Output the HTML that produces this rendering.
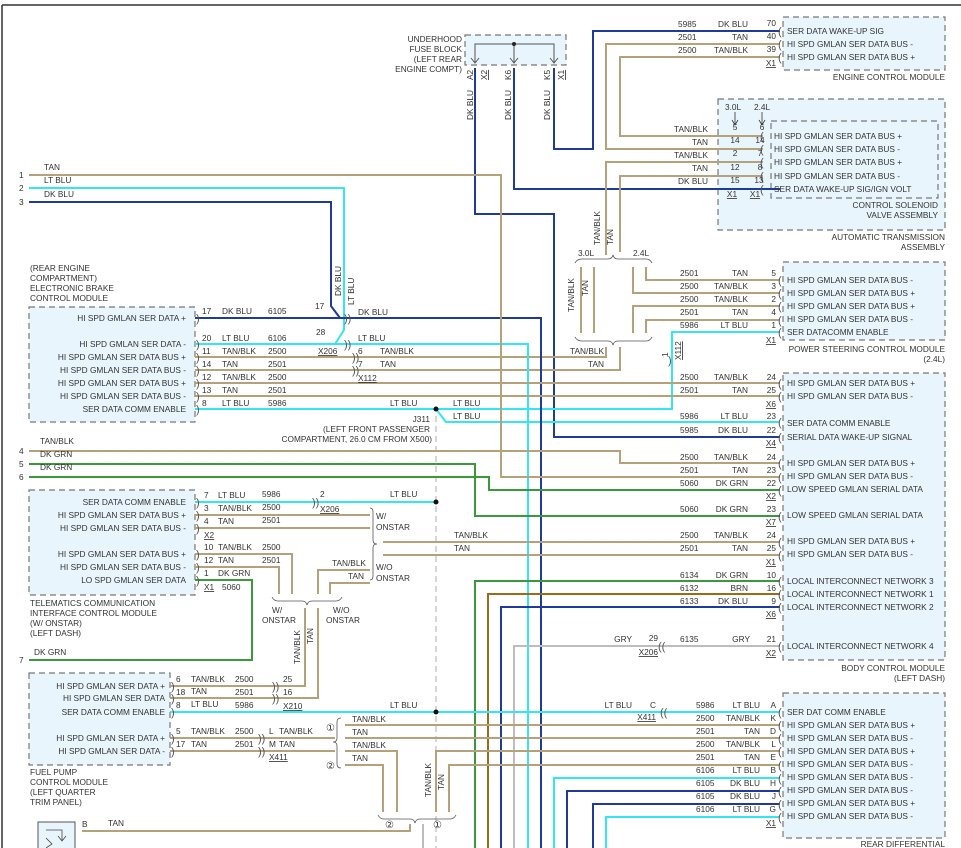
<!DOCTYPE html>
<html><head><meta charset="utf-8">
<style>
html,body{margin:0;padding:0;background:#fff;}
svg{display:block;font-family:"Liberation Sans",sans-serif;font-size:8.3px;fill:#333;}
.w{fill:none;stroke-width:2;stroke-linejoin:miter;}
.t{stroke:#b6a27a;} .lb{stroke:#33e6f2;} .db{stroke:#1f3b98;} .g{stroke:#3a9a3a;} .br{stroke:#9b6b1a;} .gy{stroke:#bdbdbd;}
.box{fill:#e8f5fc;stroke:#777;stroke-width:1.2;stroke-dasharray:6,4;}
.r{text-anchor:end;} .m{text-anchor:middle;}
.u{text-decoration:underline;}
.br2{fill:none;stroke:#555;stroke-width:0.8;}
</style></head><body>
<svg width="961" height="848" viewBox="0 0 961 848" xmlns="http://www.w3.org/2000/svg">
<line x1="2" y1="5" x2="961" y2="5" stroke="#333" stroke-width="1.5"/>
<line x1="2" y1="5" x2="2" y2="848" stroke="#333" stroke-width="1.5"/>

<rect class="box" x="465" y="35" width="101" height="30"/>
<rect class="box" x="783" y="17" width="162" height="53"/>
<rect class="box" x="718" y="99" width="227" height="131"/>
<rect x="771" y="121" width="167" height="77" fill="#e8f5fc" stroke="#777" stroke-width="1.2" stroke-dasharray="6,4"/>
<rect class="box" x="783" y="262" width="162" height="78"/>
<rect class="box" x="783" y="373" width="162" height="287"/>
<rect class="box" x="783" y="693" width="162" height="145"/>
<rect class="box" x="29" y="307" width="166" height="115"/>
<rect class="box" x="29" y="490" width="166" height="105"/>
<rect class="box" x="29" y="673" width="141" height="92"/>
<rect x="38" y="822" width="37" height="30" fill="#e8f5fc" stroke="#555" stroke-width="1"/>

<polyline points="475,62 475,44 554,44 554,62" fill="none" stroke="#555" stroke-width="1"/>
<line x1="514" y1="44" x2="514" y2="62" stroke="#555" stroke-width="1"/>
<circle cx="514" cy="44" r="2" fill="#222"/>
<path d="M471,58 L475,63 L479,58 M510,58 L514,63 L518,58 M550,58 L554,63 L558,58" fill="none" stroke="#555" stroke-width="1"/>

<line x1="436" y1="416" x2="436" y2="848" stroke="#bbb" stroke-width="1.2" stroke-dasharray="6,4"/>

<polyline class="w db" points="475,68 475,214 554,214 554,437 780,437"/>
<polyline class="w db" points="514,68 514,189 780,189"/>
<polyline class="w db" points="554,68 554,149 593,149 593,31 780,31"/>
<polyline class="w t" points="763,149 606,149 606,44 780,44"/>
<polyline class="w t" points="763,136 620,136 620,57 780,57"/>
<polyline class="w t" points="606,255 606,162 763,162"/>
<polyline class="w t" points="620,252 620,176 763,176"/>

<line class="w t" x1="581" y1="267" x2="581" y2="333"/>
<line class="w t" x1="594" y1="267" x2="594" y2="333"/>
<polyline class="w t" points="633,267 633,293 780,293"/>
<polyline class="w t" points="646,267 646,280 780,280"/>
<polyline class="w t" points="633,333 633,306 780,306"/>
<polyline class="w t" points="646,333 646,320 780,320"/>
<polyline class="w t" points="606,347 606,357 195,357"/>
<polyline class="w t" points="620,347 620,370 195,370"/>
<path class="br2" d="M575,263 Q577,259 582,259 L608,259 Q612,259 613,255 Q614,259 618,259 L646,259 Q650,259 652,263"/>
<path class="br2" d="M575,337 Q577,341 582,341 L608,341 Q612,341 613,345 Q614,341 618,341 L646,341 Q650,341 652,337"/>

<polyline class="w lb" points="195,409 672,409 672,332 780,332"/>
<polyline class="w lb" points="436,409 446,422 780,422"/>

<polyline class="w db" points="29,202 331,202 331,306 340,318"/>
<polyline class="w lb" points="29,188 344,188 344,330 335,344"/>
<polyline class="w db" points="195,318 541,318 541,848"/>
<polyline class="w lb" points="195,344 528,344 528,848"/>
<line class="w t" x1="195" y1="383" x2="780" y2="383"/>
<line class="w t" x1="195" y1="396" x2="780" y2="396"/>
<polyline class="w t" points="29,175 501,175 501,477 780,477"/>
<polyline class="w t" points="29,451 620,451 620,463 780,463"/>
<polyline class="w g" points="29,464 475,464 475,516 780,516"/>
<polyline class="w g" points="29,477 489,477 489,490 780,490"/>

<polyline class="w g" points="475,848 475,581 780,581"/>
<polyline class="w br" points="488,848 488,594 780,594"/>
<polyline class="w db" points="501,848 501,607 780,607"/>
<polyline class="w gy" points="514,848 514,646 780,646"/>

<line class="w lb" x1="195" y1="502" x2="436" y2="502"/>
<line class="w t" x1="195" y1="515" x2="370" y2="515"/>
<line class="w t" x1="195" y1="528" x2="370" y2="528"/>
<path class="br2" d="M370,508 Q373,508 373,512 L373,540 Q373,544 377,544 Q373,544 373,548 L373,576 Q373,580 370,580"/>
<line class="w t" x1="383" y1="542" x2="780" y2="542"/>
<line class="w t" x1="383" y1="555" x2="780" y2="555"/>
<polyline class="w t" points="195,554 292,554 292,594"/>
<polyline class="w t" points="195,567 279,567 279,594"/>
<polyline class="w g" points="195,580 252,580 252,660 29,660"/>
<polyline class="w t" points="370,570 318,570 318,594"/>
<polyline class="w t" points="370,583 330,583 330,594"/>
<path class="br2" d="M272,597 Q274,601 278,601 L302,601 Q306,601 307,605 Q308,601 312,601 L336,601 Q340,601 342,597"/>
<polyline class="w t" points="305,608 305,686 170,686"/>
<polyline class="w t" points="318,608 318,698 170,698"/>

<line class="w lb" x1="170" y1="712" x2="780" y2="712"/>
<line class="w t" x1="170" y1="738" x2="335" y2="738"/>
<line class="w t" x1="170" y1="751" x2="335" y2="751"/>
<path class="br2" d="M341,718 Q337,718 337,722 L337,738 Q337,742 333,742 Q337,742 337,746 L337,764 Q337,768 341,768"/>
<line class="w t" x1="345" y1="725" x2="780" y2="725"/>
<line class="w t" x1="345" y1="738" x2="780" y2="738"/>
<polyline class="w t" points="345,751 397,751 397,812"/>
<polyline class="w t" points="345,765 383,765 383,812"/>
<polyline class="w t" points="436,812 436,751 780,751"/>
<polyline class="w t" points="449,812 449,765 780,765"/>
<path class="br2" d="M378,815 Q380,819 384,819 L410,819 Q414,819 415,823 Q416,819 420,819 L450,819 Q454,819 456,815"/>
<polyline class="w t" points="82,831 410,831 410,824"/>
<line class="w gy" x1="423" y1="824" x2="423" y2="848"/>

<polyline class="w lb" points="554,848 554,778 780,778"/>
<polyline class="w db" points="567,848 567,791 780,791"/>
<polyline class="w db" points="593,848 593,804 780,804"/>
<polyline class="w lb" points="606,848 606,817 780,817"/>

<circle cx="436" cy="409" r="2.5" fill="#111"/>
<circle cx="436" cy="502" r="2.5" fill="#111"/>
<circle cx="436" cy="712" r="2.5" fill="#111"/>

<g font-size="11" fill="#555">
<text x="778" y="35">(</text><text x="778" y="48">(</text><text x="778" y="61">(</text>
<text x="760" y="140">(</text><text x="760" y="153">(</text><text x="760" y="166">(</text><text x="760" y="180">(</text><text x="760" y="193">(</text>
<text x="778" y="284">(</text><text x="778" y="297">(</text><text x="778" y="310">(</text><text x="778" y="324">(</text><text x="778" y="336">(</text>
<text x="778" y="387">(</text><text x="778" y="400">(</text><text x="778" y="426">(</text><text x="778" y="441">(</text><text x="778" y="467">(</text><text x="778" y="481">(</text><text x="778" y="494">(</text><text x="778" y="520">(</text><text x="778" y="546">(</text><text x="778" y="559">(</text><text x="778" y="585">(</text><text x="778" y="598">(</text><text x="778" y="611">(</text><text x="778" y="650">(</text>
<text x="778" y="716">(</text><text x="778" y="729">(</text><text x="778" y="742">(</text><text x="778" y="755">(</text><text x="778" y="769">(</text><text x="778" y="782">(</text><text x="778" y="795">(</text><text x="778" y="808">(</text><text x="778" y="821">(</text>
<text x="196" y="322">)</text><text x="196" y="348">)</text><text x="196" y="361">)</text><text x="196" y="374">)</text><text x="196" y="387">)</text><text x="196" y="400">)</text><text x="196" y="413">)</text>
<text x="196" y="506">)</text><text x="196" y="519">)</text><text x="196" y="532">)</text><text x="196" y="558">)</text><text x="196" y="571">)</text><text x="196" y="584">)</text>
<text x="171" y="690">)</text><text x="171" y="702">)</text><text x="171" y="716">)</text><text x="171" y="742">)</text><text x="171" y="755">)</text>
<text x="344" y="322">))</text><text x="344" y="348">))</text><text x="352" y="361">))</text><text x="352" y="374">))</text>
<text x="312" y="506">))</text><text x="272" y="690">))</text><text x="272" y="702">))</text><text x="258" y="742">))</text><text x="258" y="755">))</text>
<text x="660" y="716">((</text><text x="658" y="650">((</text><text x="668" y="364">)</text>
</g>

<text class="r" x="462" y="42">UNDERHOOD</text>
<text class="r" x="462" y="52">FUSE BLOCK</text>
<text class="r" x="462" y="62">(LEFT REAR</text>
<text class="r" x="462" y="72">ENGINE COMPT)</text>
<g transform="rotate(-90)">
<text x="-80" y="473">A2</text><text x="-80" y="487" class="u">X2</text>
<text x="-80" y="511">K6</text><text x="-80" y="550">K5</text><text x="-80" y="564" class="u">X1</text>
<text x="-120" y="473">DK BLU</text><text x="-120" y="511">DK BLU</text><text x="-120" y="550">DK BLU</text>
<text x="-296" y="341">DK BLU</text>
<text x="-245" y="600">TAN/BLK</text><text x="-245" y="613">TAN</text>
<text x="-312" y="574">TAN/BLK</text><text x="-296" y="588">TAN</text>
<text x="-360" y="681" class="u">X112</text><text x="-357" y="668">1</text>
<text x="-664" y="300">TAN/BLK</text><text x="-644" y="313">TAN</text>
<text x="-797" y="431">TAN/BLK</text><text x="-790" y="444">TAN</text>
<text x="-305" y="354">LT BLU</text>
</g>

<text x="678" y="27">5985</text><text class="r" x="748" y="27">DK BLU</text><text class="r" x="776" y="26">70</text>
<text x="678" y="40">2501</text><text class="r" x="748" y="40">TAN</text><text class="r" x="776" y="39">40</text>
<text x="678" y="53">2500</text><text class="r" x="748" y="53">TAN/BLK</text><text class="r" x="776" y="52">39</text>
<text class="r u" x="776" y="66">X1</text>
<text x="787" y="34">SER DATA WAKE-UP SIG</text>
<text x="787" y="47">HI SPD GMLAN SER DATA BUS -</text>
<text x="787" y="60">HI SPD GMLAN SER DATA BUS +</text>
<text class="r" x="945" y="80">ENGINE CONTROL MODULE</text>

<text x="725" y="110">3.0L</text><text x="754" y="110">2.4L</text>
<path d="M735,112 L735,124 M732,120 L735,125 L738,120 M762,112 L762,124 M759,120 L762,125 L765,120" stroke="#333" fill="none" stroke-width="0.8"/>
<text class="r" x="708" y="132">TAN/BLK</text><text class="m" x="735" y="130">5</text><text class="m" x="762" y="130">6</text>
<text class="r" x="708" y="145">TAN</text><text class="m" x="735" y="143">14</text><text class="m" x="760" y="143">14</text>
<text class="r" x="708" y="158">TAN/BLK</text><text class="m" x="735" y="156">2</text><text class="m" x="760" y="156">7</text>
<text class="r" x="708" y="171">TAN</text><text class="m" x="735" y="170">12</text><text class="m" x="760" y="170">8</text>
<text class="r" x="708" y="184">DK BLU</text><text class="m" x="735" y="183">15</text><text class="m" x="759" y="183">13</text>
<text class="m u" x="732" y="197">X1</text><text class="m u" x="755" y="197">X1</text>
<text x="774" y="139">HI SPD GMLAN SER DATA BUS +</text>
<text x="774" y="152">HI SPD GMLAN SER DATA BUS -</text>
<text x="774" y="165">HI SPD GMLAN SER DATA BUS +</text>
<text x="774" y="179">HI SPD GMLAN SER DATA BUS -</text>
<text x="774" y="192">SER DATA WAKE-UP SIG/IGN VOLT</text>
<text class="r" x="938" y="208">CONTROL SOLENOID</text>
<text class="r" x="938" y="218">VALVE ASSEMBLY</text>
<text class="r" x="945" y="240">AUTOMATIC TRANSMISSION</text>
<text class="r" x="945" y="250">ASSEMBLY</text>

<text x="578" y="256">3.0L</text><text x="633" y="256">2.4L</text>
<text x="680" y="276">2501</text><text class="r" x="748" y="276">TAN</text><text class="r" x="776" y="276">5</text>
<text x="680" y="289">2500</text><text class="r" x="748" y="289">TAN/BLK</text><text class="r" x="776" y="289">3</text>
<text x="680" y="302">2500</text><text class="r" x="748" y="302">TAN/BLK</text><text class="r" x="776" y="302">2</text>
<text x="680" y="315">2501</text><text class="r" x="748" y="315">TAN</text><text class="r" x="776" y="315">4</text>
<text x="680" y="328">5986</text><text class="r" x="748" y="328">LT BLU</text><text class="r" x="776" y="328">1</text>
<text class="r u" x="776" y="343">X1</text>
<text x="787" y="283">HI SPD GMLAN SER DATA BUS -</text>
<text x="787" y="296">HI SPD GMLAN SER DATA BUS +</text>
<text x="787" y="309">HI SPD GMLAN SER DATA BUS +</text>
<text x="787" y="322">HI SPD GMLAN SER DATA BUS -</text>
<text x="787" y="335">SER DATACOMM ENABLE</text>
<text class="r" x="945" y="352">POWER STEERING CONTROL MODULE</text>
<text class="r" x="945" y="362">(2.4L)</text>
<text class="r" x="604" y="354">TAN/BLK</text><text class="r" x="604" y="367">TAN</text>

<text x="680" y="380">2500</text><text class="r" x="748" y="380">TAN/BLK</text><text class="r" x="776" y="380">24</text>
<text x="680" y="393">2501</text><text class="r" x="748" y="393">TAN</text><text class="r" x="776" y="393">25</text>
<text class="r u" x="776" y="407">X6</text>
<text x="680" y="419">5986</text><text class="r" x="748" y="419">LT BLU</text><text class="r" x="776" y="419">23</text>
<text x="680" y="433">5985</text><text class="r" x="748" y="433">DK BLU</text><text class="r" x="776" y="433">22</text>
<text class="r u" x="776" y="446">X4</text>
<text x="680" y="460">2500</text><text class="r" x="748" y="460">TAN/BLK</text><text class="r" x="776" y="460">24</text>
<text x="680" y="473">2501</text><text class="r" x="748" y="473">TAN</text><text class="r" x="776" y="473">23</text>
<text x="680" y="486">5060</text><text class="r" x="748" y="486">DK GRN</text><text class="r" x="776" y="486">22</text>
<text class="r u" x="776" y="499">X2</text>
<text x="680" y="512">5060</text><text class="r" x="748" y="512">DK GRN</text><text class="r" x="776" y="512">23</text>
<text class="r u" x="776" y="525">X7</text>
<text x="680" y="538">2500</text><text class="r" x="748" y="538">TAN/BLK</text><text class="r" x="776" y="538">24</text>
<text x="680" y="551">2501</text><text class="r" x="748" y="551">TAN</text><text class="r" x="776" y="551">25</text>
<text class="r u" x="776" y="565">X1</text>
<text x="680" y="578">6134</text><text class="r" x="748" y="578">DK GRN</text><text class="r" x="776" y="578">10</text>
<text x="680" y="591">6132</text><text class="r" x="748" y="591">BRN</text><text class="r" x="776" y="591">16</text>
<text x="680" y="604">6133</text><text class="r" x="748" y="604">DK BLU</text><text class="r" x="776" y="604">9</text>
<text class="r u" x="776" y="617">X6</text>
<text class="r" x="632" y="642">GRY</text><text class="r" x="658" y="641">29</text><text class="r u" x="658" y="655">X206</text>
<text x="680" y="642">6135</text><text class="r" x="750" y="642">GRY</text><text class="r" x="776" y="642">21</text>
<text class="r u" x="776" y="656">X2</text>
<text x="787" y="386">HI SPD GMLAN SER DATA BUS +</text>
<text x="787" y="399">HI SPD GMLAN SER DATA BUS -</text>
<text x="787" y="426">SER DATA COMM ENABLE</text>
<text x="787" y="440">SERIAL DATA WAKE-UP SIGNAL</text>
<text x="787" y="466">HI SPD GMLAN SER DATA BUS +</text>
<text x="787" y="479">HI SPD GMLAN SER DATA BUS -</text>
<text x="787" y="492">LOW SPEED GMLAN SERIAL DATA</text>
<text x="787" y="518">LOW SPEED GMLAN SERIAL DATA</text>
<text x="787" y="544">HI SPD GMLAN SER DATA BUS +</text>
<text x="787" y="557">HI SPD GMLAN SER DATA BUS -</text>
<text x="787" y="584">LOCAL INTERCONNECT NETWORK 3</text>
<text x="787" y="597">LOCAL INTERCONNECT NETWORK 1</text>
<text x="787" y="610">LOCAL INTERCONNECT NETWORK 2</text>
<text x="787" y="649">LOCAL INTERCONNECT NETWORK 4</text>
<text class="r" x="945" y="671">BODY CONTROL MODULE</text>
<text class="r" x="945" y="681">(LEFT DASH)</text>

<text class="r" x="632" y="708">LT BLU</text><text class="r" x="656" y="708">C</text><text class="r u" x="656" y="720">X411</text>
<text x="696" y="708">5986</text><text class="r" x="760" y="708">LT BLU</text><text class="r" x="776" y="708">A</text>
<text x="696" y="721">2500</text><text class="r" x="760" y="721">TAN/BLK</text><text class="r" x="776" y="721">K</text>
<text x="696" y="734">2501</text><text class="r" x="760" y="734">TAN</text><text class="r" x="776" y="734">D</text>
<text x="696" y="747">2500</text><text class="r" x="760" y="747">TAN/BLK</text><text class="r" x="776" y="747">L</text>
<text x="696" y="760">2501</text><text class="r" x="760" y="760">TAN</text><text class="r" x="776" y="760">E</text>
<text x="696" y="773">6106</text><text class="r" x="760" y="773">LT BLU</text><text class="r" x="776" y="773">B</text>
<text x="696" y="786">6105</text><text class="r" x="760" y="786">DK BLU</text><text class="r" x="776" y="786">H</text>
<text x="696" y="799">6105</text><text class="r" x="760" y="799">DK BLU</text><text class="r" x="776" y="799">J</text>
<text x="696" y="812">6106</text><text class="r" x="760" y="812">LT BLU</text><text class="r" x="776" y="812">G</text>
<text class="r u" x="776" y="826">X1</text>
<text x="787" y="715">SER DAT COMM ENABLE</text>
<text x="787" y="728">HI SPD GMLAN SER DATA BUS +</text>
<text x="787" y="741">HI SPD GMLAN SER DATA BUS -</text>
<text x="787" y="754">HI SPD GMLAN SER DATA BUS +</text>
<text x="787" y="767">HI SPD GMLAN SER DATA BUS -</text>
<text x="787" y="780">HI SPD GMLAN SER DATA BUS -</text>
<text x="787" y="793">HI SPD GMLAN SER DATA BUS -</text>
<text x="787" y="806">HI SPD GMLAN SER DATA BUS +</text>
<text x="787" y="819">HI SPD GMLAN SER DATA BUS -</text>
<text class="r" x="945" y="847">REAR DIFFERENTIAL</text>

<text x="19" y="178">1</text><text x="44" y="170">TAN</text>
<text x="19" y="191">2</text><text x="44" y="183">LT BLU</text>
<text x="19" y="205">3</text><text x="44" y="197">DK BLU</text>
<text x="19" y="454">4</text><text x="40" y="444">TAN/BLK</text>
<text x="19" y="467">5</text><text x="40" y="457">DK GRN</text>
<text x="19" y="480">6</text><text x="40" y="470">DK GRN</text>
<text x="19" y="663">7</text><text x="34" y="655">DK GRN</text>

<text x="30" y="271">(REAR ENGINE</text>
<text x="30" y="281">COMPARTMENT)</text>
<text x="30" y="291">ELECTRONIC BRAKE</text>
<text x="30" y="301">CONTROL MODULE</text>
<text class="r" x="186" y="321">HI SPD GMLAN SER DATA +</text>
<text class="r" x="186" y="347">HI SPD GMLAN SER DATA -</text>
<text class="r" x="186" y="360">HI SPD GMLAN SER DATA BUS +</text>
<text class="r" x="186" y="373">HI SPD GMLAN SER DATA BUS -</text>
<text class="r" x="186" y="386">HI SPD GMLAN SER DATA BUS +</text>
<text class="r" x="186" y="399">HI SPD GMLAN SER DATA BUS -</text>
<text class="r" x="186" y="412">SER DATA COMM ENABLE</text>
<text x="202" y="314">17</text><text x="222" y="314">DK BLU</text><text x="268" y="314">6105</text>
<text x="202" y="341">20</text><text x="222" y="341">LT BLU</text><text x="268" y="341">6106</text>
<text x="202" y="354">11</text><text x="222" y="354">TAN/BLK</text><text x="268" y="354">2500</text>
<text x="202" y="367">14</text><text x="222" y="367">TAN</text><text x="268" y="367">2501</text>
<text x="202" y="380">12</text><text x="222" y="380">TAN/BLK</text><text x="268" y="380">2500</text>
<text x="202" y="393">13</text><text x="222" y="393">TAN</text><text x="268" y="393">2501</text>
<text x="202" y="406">8</text><text x="222" y="406">LT BLU</text><text x="268" y="406">5986</text>
<text x="315" y="309">17</text><text x="316" y="335">28</text><text class="u" x="318" y="354">X206</text>
<text x="358" y="315">DK BLU</text><text x="358" y="341">LT BLU</text>
<text x="358" y="354">6</text><text x="380" y="354">TAN/BLK</text>
<text x="358" y="367">7</text><text x="380" y="367">TAN</text>
<text class="u" x="358" y="381">X112</text>
<text x="390" y="406">LT BLU</text>
<text x="453" y="406">LT BLU</text><text x="453" y="419">LT BLU</text>
<text class="r" x="430" y="422">J311</text>
<text class="r" x="430" y="432">(LEFT FRONT PASSENGER</text>
<text class="r" x="432" y="442">COMPARTMENT, 26.0 CM FROM X500)</text>

<text class="r" x="186" y="505">SER DATA COMM ENABLE</text>
<text class="r" x="186" y="518">HI SPD GMLAN SER DATA BUS +</text>
<text class="r" x="186" y="531">HI SPD GMLAN SER DATA BUS -</text>
<text class="r" x="186" y="557">HI SPD GMLAN SER DATA BUS +</text>
<text class="r" x="186" y="570">HI SPD GMLAN SER DATA BUS -</text>
<text class="r" x="186" y="583">LO SPD GMLAN SER DATA</text>
<text x="204" y="498">7</text><text x="218" y="498">LT BLU</text><text x="262" y="497">5986</text>
<text x="204" y="511">3</text><text x="218" y="511">TAN/BLK</text><text x="262" y="510">2500</text>
<text x="204" y="524">4</text><text x="218" y="524">TAN</text><text x="262" y="523">2501</text>
<text class="u" x="204" y="538">X2</text>
<text x="204" y="550">10</text><text x="218" y="550">TAN/BLK</text><text x="262" y="550">2500</text>
<text x="204" y="563">12</text><text x="218" y="563">TAN</text><text x="262" y="563">2501</text>
<text x="204" y="576">1</text><text x="218" y="576">DK GRN</text>
<text class="u" x="204" y="590">X1</text><text x="222" y="590">5060</text>
<text x="320" y="497">2</text><text class="u" x="320" y="512">X206</text><text x="390" y="497">LT BLU</text>
<text x="376" y="519">W/</text><text x="376" y="530">ONSTAR</text>
<text x="376" y="570">W/O</text><text x="376" y="581">ONSTAR</text>
<text x="454" y="538">TAN/BLK</text><text x="454" y="551">TAN</text>
<text x="332" y="566">TAN/BLK</text><text x="348" y="579">TAN</text>
<text x="272" y="613">W/</text><text x="262" y="623">ONSTAR</text>
<text x="333" y="613">W/O</text><text x="326" y="623">ONSTAR</text>
<text x="30" y="606">TELEMATICS COMMUNICATION</text>
<text x="30" y="616">INTERFACE CONTROL MODULE</text>
<text x="30" y="626">(W/ ONSTAR)</text>
<text x="30" y="636">(LEFT DASH)</text>

<text class="r" x="165" y="689">HI SPD GMLAN SER DATA +</text>
<text class="r" x="165" y="701">HI SPD GMLAN SER DATA</text>
<text class="r" x="165" y="715">SER DATA COMM ENABLE</text>
<text class="r" x="165" y="741">HI SPD GMLAN SER DATA +</text>
<text class="r" x="165" y="754">HI SPD GMLAN SER DATA -</text>
<text x="176" y="682">6</text><text x="191" y="682">TAN/BLK</text><text x="235" y="682">2500</text><text x="283" y="682">25</text>
<text x="176" y="695">18</text><text x="191" y="694">TAN</text><text x="235" y="695">2501</text><text x="283" y="695">16</text>
<text x="176" y="708">8</text><text x="191" y="707">LT BLU</text><text x="235" y="708">5986</text><text class="u" x="283" y="709">X210</text>
<text x="390" y="708">LT BLU</text>
<text x="176" y="734">5</text><text x="191" y="734">TAN/BLK</text><text x="235" y="734">2500</text><text x="269" y="734">L</text><text x="279" y="734">TAN/BLK</text>
<text x="176" y="747">17</text><text x="191" y="747">TAN</text><text x="235" y="747">2501</text><text x="269" y="747">M</text><text x="279" y="747">TAN</text>
<text class="u" x="269" y="760">X411</text>
<text x="326" y="731" font-size="10">①</text><text x="326" y="769" font-size="10">②</text>
<text x="352" y="722">TAN/BLK</text><text x="352" y="735">TAN</text>
<text x="352" y="748">TAN/BLK</text><text x="352" y="761">TAN</text>
<text x="385" y="828" font-size="10">②</text><text x="433" y="828" font-size="10">①</text>
<text x="30" y="775">FUEL PUMP</text>
<text x="30" y="785">CONTROL MODULE</text>
<text x="30" y="795">(LEFT QUARTER</text>
<text x="30" y="805">TRIM PANEL)</text>
<text x="82" y="827">B</text><text x="108" y="826">TAN</text>
<path d="M46,830 L62,830 L62,840 M58,836 L62,841 L66,836 M46,838 L52,844 L46,848" fill="none" stroke="#444" stroke-width="0.8"/>
</svg>
</body></html>
